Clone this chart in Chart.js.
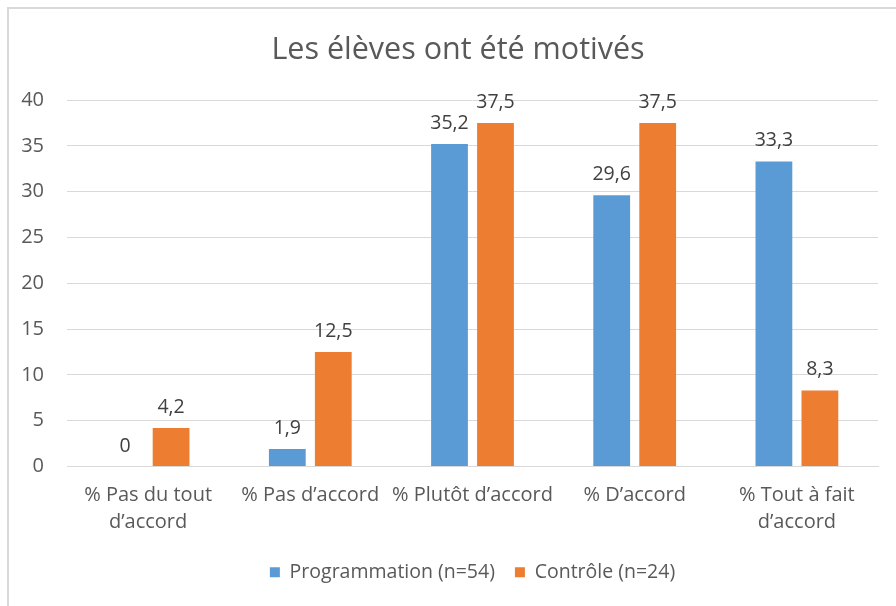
<!DOCTYPE html>
<html>
<head>
<meta charset="utf-8">
<script src="https://cdn.jsdelivr.net/npm/chart.js@4/dist/chart.umd.min.js"></script>
<style>
  html, body { margin:0; padding:0; background:#fff; }
  #wrap { width:896px; height:606px; position:relative; }
</style>
</head>
<body>
<div id="wrap"><canvas id="chart" width="896" height="606"></canvas></div>
<script>
// categories and series (percentages)
const categories = [
  ['% Pas du tout', 'd\u2019accord'],
  '% Pas d\u2019accord',
  '% Plut\u00f4t d\u2019accord',
  '% D\u2019accord',
  ['% Tout \u00e0 fait', 'd\u2019accord']
];
const programmation = [0, 1.9, 35.2, 29.6, 33.3];
const controle = [4.2, 12.5, 37.5, 37.5, 8.3];
const yTicks = [0, 5, 10, 15, 20, 25, 30, 35, 40];
const chartTitle = 'Les \u00e9l\u00e8ves ont \u00e9t\u00e9 motiv\u00e9s';

const textColor = '#595959';
const fontFamily = '"Open Sans", sans-serif';

// background, thin grey frame and the title (centred on the frame, not the canvas)
const framePlugin = {
  id: 'frame',
  beforeDraw(chart) {
    const c = chart.ctx;
    c.save();
    c.fillStyle = '#fff';
    c.fillRect(0, 0, chart.width, chart.height);
    c.strokeStyle = '#d9d9d9';
    c.lineWidth = 2;
    c.beginPath();
    c.moveTo(8, chart.height + 5);
    c.lineTo(8, 8);
    c.lineTo(chart.width + 5, 8);
    c.stroke();
    c.font = '30.5px ' + fontFamily;
    c.fillStyle = textColor;
    c.textAlign = 'center';
    c.textBaseline = 'middle';
    c.fillText(chartTitle, 458, 50);
    c.restore();
  }
};

// value labels above each bar, decimal comma
const valueLabels = {
  id: 'valueLabels',
  afterDatasetsDraw(chart) {
    const c = chart.ctx;
    c.save();
    c.font = '19.5px ' + fontFamily;
    c.fillStyle = '#404040';
    c.textAlign = 'center';
    c.textBaseline = 'alphabetic';
    chart.data.datasets.forEach((ds, i) => {
      chart.getDatasetMeta(i).data.forEach((bar, j) => {
        const txt = String(ds.data[j]).replace('.', ',');
        c.fillText(txt, bar.x, bar.y - 15);
      });
    });
    c.restore();
  }
};

new Chart(document.getElementById('chart'), {
  type: 'bar',
  data: {
    labels: categories,
    datasets: [
      { label: 'Programmation (n=54)', data: programmation, backgroundColor: '#5B9BD5',
        barPercentage: 0.8, categoryPercentage: 0.567 },
      { label: 'Contr\u00f4le (n=24)', data: controle, backgroundColor: '#ED7D31',
        barPercentage: 0.8, categoryPercentage: 0.567 }
    ]
  },
  options: {
    responsive: false,
    animation: false,
    layout: { padding: { left: 0, right: 18, top: 100, bottom: 14 } },
    plugins: {
      title: { display: false },
      legend: {
        position: 'bottom',
        fullSize: false,
        labels: {
          color: textColor,
          font: { family: fontFamily, size: 19.5 },
          boxWidth: 10,
          boxHeight: 10,
          padding: 20
        }
      },
      tooltip: { enabled: false }
    },
    scales: {
      x: {
        grid: { display: false, drawTicks: false },
        border: { color: '#d9d9d9', width: 1 },
        ticks: { color: textColor, font: { family: fontFamily, size: 20, lineHeight: 1.35 }, padding: 15,
                 maxRotation: 0, autoSkip: false },
        afterFit(scale) { scale.height = 76; }
      },
      y: {
        min: 0,
        max: 40,
        afterBuildTicks(scale) { scale.ticks = yTicks.map(v => ({ value: v })); },
        grid: { color: '#d9d9d9', drawTicks: false },
        border: { display: false },
        ticks: { color: textColor, font: { family: fontFamily, size: 20 }, padding: 23 },
        afterFit(scale) { scale.width = 67; }
      }
    }
  },
  plugins: [framePlugin, valueLabels]
});
</script>
</body>
</html>
